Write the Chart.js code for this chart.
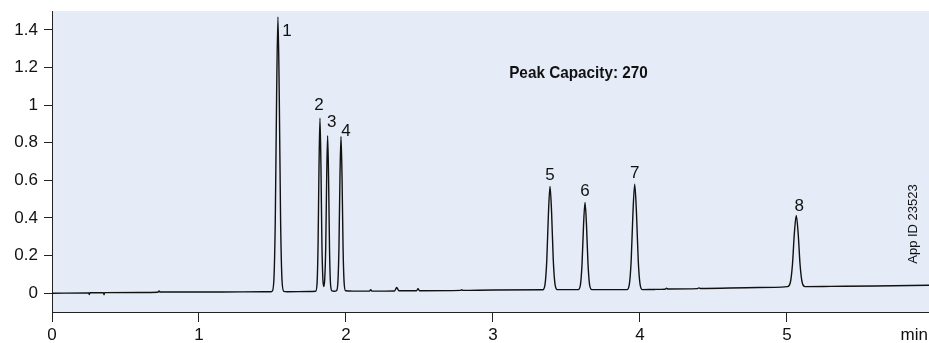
<!DOCTYPE html>
<html>
<head>
<meta charset="utf-8">
<script src="https://cdn.jsdelivr.net/npm/chart.js@4.4.1/dist/chart.umd.min.js"></script>
<style>
  html, body { margin: 0; padding: 0; background: #fff; }
  canvas { display: block; }
</style>
</head>
<body>
<canvas id="chart" width="929" height="343"></canvas>
<script>
// retention time (min) and detector signal
const times = [
  0, 0.25, 0.254, 0.258, 0.35, 0.354, 0.358, 0.6, 0.72, 0.728, 0.736, 1.0, 1.3, 1.49,
  1.497, 1.509, 1.519, 1.528, 1.537, 1.546, 1.555, 1.565, 1.577,
  1.6, 1.75,
  1.793, 1.803, 1.810, 1.8165, 1.823, 1.8295, 1.836, 1.843, 1.849,
  1.855, 1.862, 1.8685, 1.875, 1.8815, 1.888, 1.895, 1.905, 1.92,
  1.935, 1.945, 1.952, 1.959, 1.966, 1.973, 1.980, 1.987, 1.997,
  2.05, 2.16, 2.168, 2.176, 2.33, 2.345, 2.36, 2.48, 2.49, 2.50, 2.78, 2.787, 2.795, 3.0, 3.338,
  3.354, 3.366, 3.377, 3.388, 3.399, 3.410, 3.422, 3.438,
  3.580, 3.595, 3.606, 3.616, 3.626, 3.636, 3.646, 3.657, 3.672,
  3.911, 3.928, 3.940, 3.952, 3.964, 3.976, 3.988, 4.000, 4.017,
  4.1, 4.17, 4.18, 4.19, 4.39, 4.40, 4.41, 4.8, 5.003,
  5.023, 5.037, 5.050, 5.063, 5.076, 5.089, 5.103, 5.123,
  5.3, 5.6, 5.97
];
const signal = [
  0, 0.001, -0.007, 0.002, 0.003, -0.008, 0.003, 0.004, 0.005, 0.012, 0.006, 0.006, 0.007, 0.008,
  0.010, 0.065, 0.39, 1.05, 1.468, 1.05, 0.39, 0.065, 0.010,
  0.008, 0.009,
  0.010, 0.05, 0.26, 0.68, 0.93, 0.68, 0.27, 0.07, 0.035,
  0.07, 0.24, 0.61, 0.837, 0.61, 0.23, 0.045, 0.012, 0.010,
  0.013, 0.06, 0.24, 0.62, 0.833, 0.62, 0.24, 0.06, 0.013,
  0.011, 0.011, 0.018, 0.011, 0.012, 0.03, 0.013, 0.013, 0.024, 0.013, 0.015, 0.019, 0.015, 0.017, 0.018,
  0.047, 0.177, 0.421, 0.567, 0.421, 0.177, 0.047, 0.019,
  0.019, 0.045, 0.160, 0.363, 0.482, 0.363, 0.160, 0.045, 0.019,
  0.019, 0.05, 0.174, 0.426, 0.58, 0.426, 0.174, 0.05, 0.019,
  0.020, 0.021, 0.026, 0.022, 0.024, 0.028, 0.025, 0.030, 0.035,
  0.058, 0.151, 0.317, 0.413, 0.317, 0.151, 0.058, 0.035,
  0.036, 0.038, 0.042
];

const xTicks = [0, 1, 2, 3, 4, 5];
const yTicks = [0, 0.2, 0.4, 0.6, 0.8, 1, 1.2, 1.4];

const peakNames = ['1', '2', '3', '4', '5', '6', '7', '8'];
const peakTimes = [1.537, 1.823, 1.875, 1.966, 3.388, 3.626, 3.964, 5.063];
const peakHeights = [1.468, 0.93, 0.837, 0.833, 0.567, 0.482, 0.58, 0.413];

const capacityText = 'Peak Capacity: 270';
const appIdText = 'App ID 23523';
const xUnitText = 'min';

// pixel nudges for the peak numbers, relative to each apex
const labelOffsets = [[9, 14], [-1, -13], [4, -13], [5, -5], [0, -11], [0, -11], [0, -11], [3, -9]];

const FONT = "'Liberation Sans', Arial, Helvetica, sans-serif";

const plotBackground = {
  id: 'plotBackground',
  beforeDraw(chart) {
    const { ctx, chartArea } = chart;
    ctx.save();
    ctx.fillStyle = 'rgb(230, 236, 247)';
    ctx.fillRect(chartArea.left, chartArea.top, chartArea.right - chartArea.left, chartArea.bottom - chartArea.top);
    ctx.restore();
  }
};

const textLayer = {
  id: 'textLayer',
  afterDraw(chart) {
    const { ctx } = chart;
    const xs = chart.scales.x;
    const ys = chart.scales.y;
    ctx.save();
    ctx.fillStyle = '#111';

    // peak numbers
    ctx.font = '17px ' + FONT;
    ctx.textAlign = 'center';
    ctx.textBaseline = 'middle';
    peakNames.forEach((name, i) => {
      const px = xs.getPixelForValue(peakTimes[i]) + labelOffsets[i][0];
      const py = ys.getPixelForValue(peakHeights[i]) + labelOffsets[i][1];
      ctx.fillText(name, px, py);
    });

    // peak capacity note (condensed bold)
    ctx.save();
    ctx.font = 'bold 17px ' + FONT;
    ctx.textAlign = 'left';
    ctx.textBaseline = 'middle';
    ctx.translate(xs.getPixelForValue(3.11), ys.getPixelForValue(1.17));
    ctx.scale(0.9, 1);
    ctx.fillText(capacityText, 0, 0);
    ctx.restore();

    // rotated app id
    ctx.save();
    ctx.font = '13px ' + FONT;
    ctx.textAlign = 'center';
    ctx.textBaseline = 'middle';
    ctx.translate(913, 224);
    ctx.rotate(-Math.PI / 2);
    ctx.fillText(appIdText, 0, 0);
    ctx.restore();

    // unit at the end of the x axis
    ctx.font = '17px ' + FONT;
    ctx.textAlign = 'right';
    ctx.textBaseline = 'middle';
    ctx.fillText(xUnitText, 928, 335);

    ctx.restore();
  }
};

const data = {
  datasets: [
    {
      label: 'signal',
      data: times.map((t, i) => ({ x: t, y: signal[i] })),
      borderColor: '#111',
      borderWidth: 1.4,
      pointRadius: 0,
      fill: false,
      cubicInterpolationMode: 'monotone',
    }
  ]
};

const config = {
  type: 'line',
  data: data,
  options: {
    responsive: false,
    animation: false,
    devicePixelRatio: 1,
    layout: {
      padding: { top: 11, right: 0, bottom: 0, left: 0 }
    },
    plugins: {
      legend: { display: false },
      title: { display: false },
      tooltip: { enabled: false }
    },
    scales: {
      x: {
        type: 'linear',
        min: 0,
        max: 5.966,
        afterBuildTicks: (scale) => { scale.ticks = xTicks.map(v => ({ value: v })); },
        afterFit: (scale) => {
          scale.height = 31;
          scale.paddingLeft = 0;
          scale.paddingRight = 0;
        },
        border: { color: '#222', width: 1 },
        grid: {
          drawOnChartArea: false,
          drawTicks: true,
          tickLength: 10,
          color: '#222',
        },
        ticks: {
          color: '#111',
          font: { family: FONT, size: 17 },
          padding: 3,
          maxRotation: 0,
          autoSkip: false,
          callback: (v) => String(v)
        }
      },
      y: {
        min: -0.1,
        max: 1.5,
        afterBuildTicks: (scale) => { scale.ticks = yTicks.map(v => ({ value: v })); },
        afterFit: (scale) => {
          scale.width = 52;
          scale.paddingTop = 0;
          scale.paddingBottom = 0;
        },
        border: { color: '#222', width: 1 },
        grid: {
          drawOnChartArea: false,
          drawTicks: true,
          tickLength: 8,
          color: '#222',
        },
        ticks: {
          color: '#111',
          font: { family: FONT, size: 17 },
          padding: 6,
          autoSkip: false,
          callback: (v) => String(+v.toFixed(1))
        }
      }
    }
  },
  plugins: [plotBackground, textLayer]
};

new Chart(document.getElementById('chart').getContext('2d'), config);
</script>
</body>
</html>
